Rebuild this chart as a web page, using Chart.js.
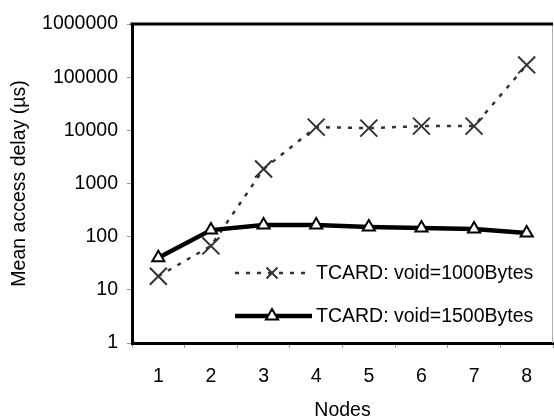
<!DOCTYPE html>
<html>
<head>
<meta charset="utf-8">
<script src="https://cdn.jsdelivr.net/npm/chart.js@4/dist/chart.umd.min.js"></script>
<style>
	body { margin: 0; background: #fff; }
	#wrap { width: 554px; height: 420px; }
</style>
</head>
<body>
<div id="wrap"><canvas id="delayChart" width="554" height="420"></canvas></div>
<script>
const nodes = ['1', '2', '3', '4', '5', '6', '7', '8'];
const void1000 = [18, 67, 1870, 11500, 11000, 12000, 12000, 170000];
const void1500 = [40, 133, 166, 166, 152, 146, 139, 117];
const yTicks = [1, 10, 100, 1000, 10000, 100000, 1000000];
const seriesNames = ['TCARD: void=1000Bytes', 'TCARD: void=1500Bytes'];

const FONT = 'Liberation Sans, Arial, sans-serif';
const FSIZE = 19.5;
const DASH = [4, 7];

// frame: thick top border, thin grey right border
const framePlugin = {
	id: 'frame',
	beforeDatasetsDraw(chart) {
		const a = chart.chartArea, ctx = chart.ctx;
		ctx.save();
		ctx.strokeStyle = '#b0b0b0';
		ctx.lineWidth = 1;
		ctx.beginPath();
		ctx.moveTo(a.right - 0.5, a.top);
		ctx.lineTo(a.right - 0.5, a.bottom);
		ctx.stroke();
		ctx.strokeStyle = '#000';
		ctx.lineWidth = 3;
		ctx.beginPath();
		ctx.moveTo(a.left - 1.5, a.top);
		ctx.lineTo(a.right, a.top);
		ctx.stroke();
		ctx.restore();
	}
};

function drawCross(ctx, x, y, r) {
	ctx.beginPath();
	ctx.moveTo(x - r, y - r); ctx.lineTo(x + r, y + r);
	ctx.moveTo(x - r, y + r); ctx.lineTo(x + r, y - r);
	ctx.stroke();
}
function drawTri(ctx, x, y, r) {
	ctx.beginPath();
	ctx.moveTo(x, y - r);
	ctx.lineTo(x + Math.sin(2 * Math.PI / 3) * r, y + r / 2);
	ctx.lineTo(x - Math.sin(2 * Math.PI / 3) * r, y + r / 2);
	ctx.closePath();
	ctx.fill();
	ctx.stroke();
}

// legend sits inside the plot, lower right
const legendPlugin = {
	id: 'insideLegend',
	afterDatasetsDraw(chart) {
		const a = chart.chartArea, ctx = chart.ctx;
		const x0 = a.right - 318, x1 = a.right - 241, xm = a.right - 281, xt = a.right - 237;
		const rows = [a.bottom - 70, a.bottom - 27];
		ctx.save();
		// row 1: dashed grey + cross
		ctx.strokeStyle = '#333';
		ctx.lineWidth = 2.5;
		ctx.setLineDash(DASH);
		ctx.beginPath(); ctx.moveTo(x0, rows[0]); ctx.lineTo(x1, rows[0]); ctx.stroke();
		ctx.setLineDash([]);
		ctx.lineWidth = 2;
		drawCross(ctx, xm, rows[0], 5.5);
		// row 2: solid black + triangle
		ctx.strokeStyle = '#000';
		ctx.lineWidth = 4.5;
		ctx.beginPath(); ctx.moveTo(x0, rows[1]); ctx.lineTo(x1, rows[1]); ctx.stroke();
		ctx.lineWidth = 2;
		ctx.fillStyle = '#fff';
		drawTri(ctx, xm, rows[1], 7);
		ctx.fillStyle = '#000';
		ctx.font = FSIZE + 'px ' + FONT;
		ctx.textBaseline = 'middle';
		ctx.textAlign = 'left';
		ctx.fillText(seriesNames[0], xt, rows[0] + 1);
		ctx.fillText(seriesNames[1], xt, rows[1] + 1);
		ctx.restore();
	}
};

new Chart(document.getElementById('delayChart'), {
	type: 'line',
	data: {
		labels: nodes,
		datasets: [
			{
				label: seriesNames[0],
				data: void1000,
				order: 1,
				borderColor: '#333',
				borderWidth: 2.5,
				borderDash: DASH,
				pointStyle: 'crossRot',
				pointRadius: 12,
				pointBorderWidth: 2,
				pointBorderColor: '#333',
				tension: 0,
				fill: false
			},
			{
				label: seriesNames[1],
				data: void1500,
				order: 0,
				borderColor: '#000',
				borderWidth: 4.5,
				pointStyle: 'triangle',
				pointRadius: 7,
				pointBorderWidth: 2,
				pointBorderColor: '#000',
				pointBackgroundColor: '#fff',
				tension: 0,
				fill: false
			}
		]
	},
	options: {
		responsive: false,
		animation: false,
		layout: { autoPadding: false, padding: { top: 24, right: 1, left: 0, bottom: 0 } },
		plugins: {
			legend: { display: false },
			tooltip: { enabled: false }
		},
		scales: {
			x: {
				type: 'category',
				offset: true,
				grid: { display: true, offset: true, drawOnChartArea: false, drawTicks: true, tickLength: 5, color: '#999' },
				border: { display: true, color: '#000', width: 3 },
				ticks: { color: '#000', font: { family: FONT, size: FSIZE }, padding: 17, maxRotation: 0 },
				title: { display: true, text: 'Nodes', color: '#000', font: { family: FONT, size: FSIZE, lineHeight: 1 }, padding: 0 },
				afterFit(scale) {
					scale.height = 77;
					scale.paddingLeft = 0;
					scale.paddingRight = 0;
				}
			},
			y: {
				type: 'logarithmic',
				min: 1,
				max: 1000000,
				afterBuildTicks(scale) { scale.ticks = yTicks.map(v => ({ value: v })); },
				grid: { display: true, drawOnChartArea: false, drawTicks: true, tickLength: 5, color: '#999' },
				border: { display: true, color: '#000', width: 3 },
				ticks: { color: '#000', font: { family: FONT, size: FSIZE }, padding: 9, callback: v => String(v) },
				title: { display: true, text: 'Mean access delay (µs)', color: '#000', font: { family: FONT, size: FSIZE }, padding: { top: 8, bottom: 8 } },
				afterFit(scale) {
					scale.width = 132;
					scale.paddingTop = 0;
					scale.paddingBottom = 0;
				}
			}
		}
	},
	plugins: [framePlugin, legendPlugin]
});
</script>
</body>
</html>
